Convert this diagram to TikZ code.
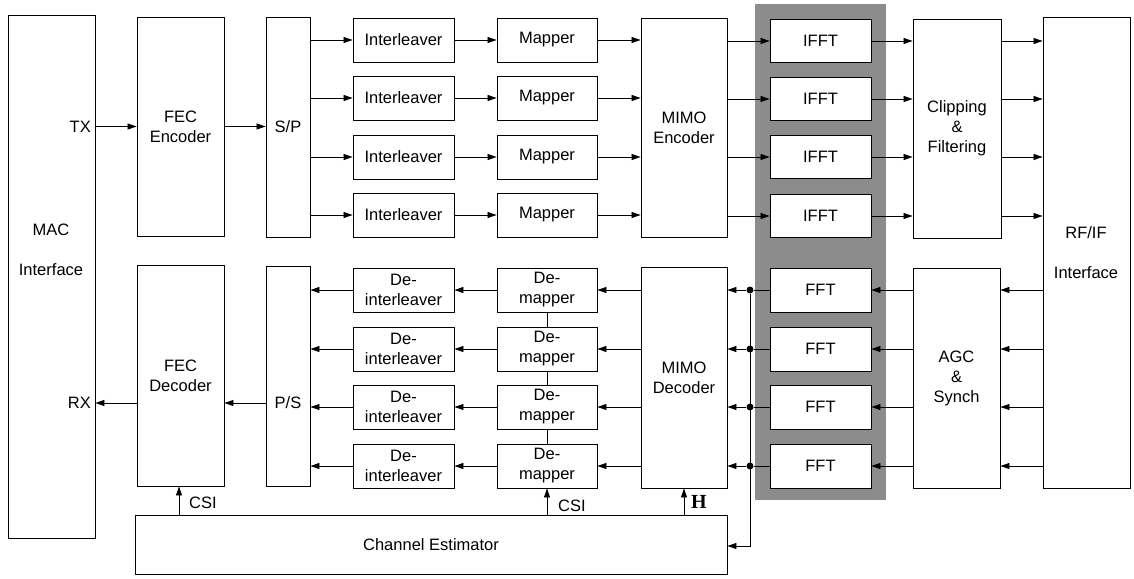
\documentclass[tikz,border=0pt]{standalone}
\usepackage{fontspec}
\setmainfont{Liberation Sans}
\newfontfamily\hfont{Liberation Serif}
\usetikzlibrary{arrows.meta}
\newcommand{\mkbox}[6]{%
  \pgfmathsetmacro\bw{(#4)-(#2)}\pgfmathsetmacro\bh{(#5)-(#3)}%
  \node[blk, minimum width=\bw pt, minimum height=\bh pt] (#1) at ({((#2)+(#4))/2},{((#3)+(#5))/2}) {#6};}
\begin{document}
\begin{tikzpicture}[x=1pt,y=-1pt,
  blk/.style={draw, fill=white, line width=0.9pt, inner sep=0pt, align=center, font=\fontsize{16.5}{20}\selectfont},
  txt/.style={inner sep=0pt, align=center, font=\fontsize{16.5}{20}\selectfont},
  arr/.style={line width=0.8pt, -{Triangle[length=9pt,width=6pt]}},
  ln/.style={line width=0.8pt},
  dot/.style={circle, fill=black, inner sep=0pt, minimum size=7pt}]
\useasboundingbox (0,0) rectangle (1134,578);
% shaded FFT/IFFT column
\fill[black!45] (755,4) rectangle (886,500);
% boxes
\mkbox{mac}{8}{15}{95}{538}{}
\node[txt] (macA) at (51,230) {MAC};
\node[txt] (macB) at (51,270) {Interface};
\node[txt, anchor=east] (tx) at (91,126.5) {TX};
\node[txt, anchor=east] (rx) at (91,403) {RX};
\mkbox{fece}{137}{17}{224}{236}{FEC\\Encoder}
\mkbox{fecd}{137}{265}{224}{486}{FEC\\Decoder}
\mkbox{sp}{266}{17}{310}{237}{S/P}
\mkbox{ps}{266}{266}{310}{486}{}
\node[txt] (pstxt) at (288,403) {P/S};
\foreach \i/\c in {1/40,2/98,3/157,4/215}{
  \mkbox{il\i}{353}{\c-22}{454}{\c+22}{Interleaver}
  \mkbox{mp\i}{497}{\c-22}{597}{\c+22}{Mapper}
}
\mkbox{mimoe}{641}{18}{727}{237}{MIMO\\Encoder}
\foreach \i/\c in {1/41,2/99,3/157,4/216}{
  \mkbox{ifft\i}{770}{\c-21.5}{871}{\c+21.5}{IFFT}
}
\mkbox{clip}{913}{19}{1001}{238}{Clipping\\\&\\Filtering}
\mkbox{rf}{1043}{17}{1130}{488}{}
\node[txt] (rfA) at (1086,233) {RF/IF};
\node[txt] (rfB) at (1086,273) {Interface};
\foreach \i/\c in {1/290,2/349,3/407,4/466}{
  \mkbox{fft\i}{770}{\c-22}{871}{\c+22}{FFT}
  \mkbox{dm\i}{497}{\c-22}{597}{\c+22}{De-\\mapper}
  \mkbox{di\i}{353}{\c-22}{454}{\c+22}{De-\\interleaver}
  \node[dot] (j\i) at (750,\c) {};
}
\mkbox{agc}{913}{268}{1000}{488}{AGC\\\&\\Synch}
\mkbox{mimod}{641}{267}{727}{488}{MIMO\\Decoder}
\mkbox{ce}{135}{515}{727}{574}{Channel Estimator}
\coordinate (busB) at (750,546);
% transmitter connectors
\draw[arr] (mac.east |- tx) -- (fece.west |- tx);
\draw[arr] (fece.east) -- (sp.west |- fece.east);
\foreach \i in {1,2,3,4}{
  \draw[arr] (sp.east |- il\i.west) -- (il\i.west);
  \draw[arr] (il\i.east) -- (mp\i.west);
  \draw[arr] (mp\i.east) -- (mimoe.west |- mp\i.east);
  \draw[arr] (mimoe.east |- ifft\i.west) -- (ifft\i.west);
  \draw[arr] (ifft\i.east) -- (clip.west |- ifft\i.east);
  \draw[arr] (clip.east |- ifft\i.east) -- (rf.west |- ifft\i.east);
}
% receiver connectors
\foreach \i in {1,2,3,4}{
  \draw[arr] (rf.west |- fft\i.east) -- (agc.east |- fft\i.east);
  \draw[arr] (agc.west |- fft\i.east) -- (fft\i.east);
  \draw[ln] (fft\i.west) -- (j\i);
  \draw[arr] (j\i) -- (mimod.east |- j\i);
  \draw[arr] (mimod.west |- dm\i.east) -- (dm\i.east);
  \draw[arr] (dm\i.west) -- (di\i.east);
  \draw[arr] (di\i.west) -- (ps.east |- di\i.west);
}
\draw[ln] (dm1.south) -- (dm2.north);
\draw[ln] (dm2.south) -- (dm3.north);
\draw[ln] (dm3.south) -- (dm4.north);
\draw[arr] (ps.west |- pstxt) -- (fecd.east |- pstxt);
\draw[arr] (fecd.west |- rx) -- (mac.east |- rx);
% bus to channel estimator
\draw[arr] (j1) -- (busB) -- (ce.east |- busB);
% channel estimator outputs
\draw[arr] (ce.north -| 179,0) -- (fecd.south -| 179,0);
\node[txt, anchor=west] (csiA) at (189,503) {CSI};
\draw[arr] (ce.north -| dm4) -- (dm4.south);
\node[txt, anchor=west] (csiB) at (558,506) {CSI};
\draw[arr] (ce.north -| mimod) -- (mimod.south);
\node[inner sep=0pt, anchor=west, font=\fontsize{20}{20}\selectfont] (hlab) at (691,502) {\hfont\bfseries H};
\end{tikzpicture}
\end{document}
